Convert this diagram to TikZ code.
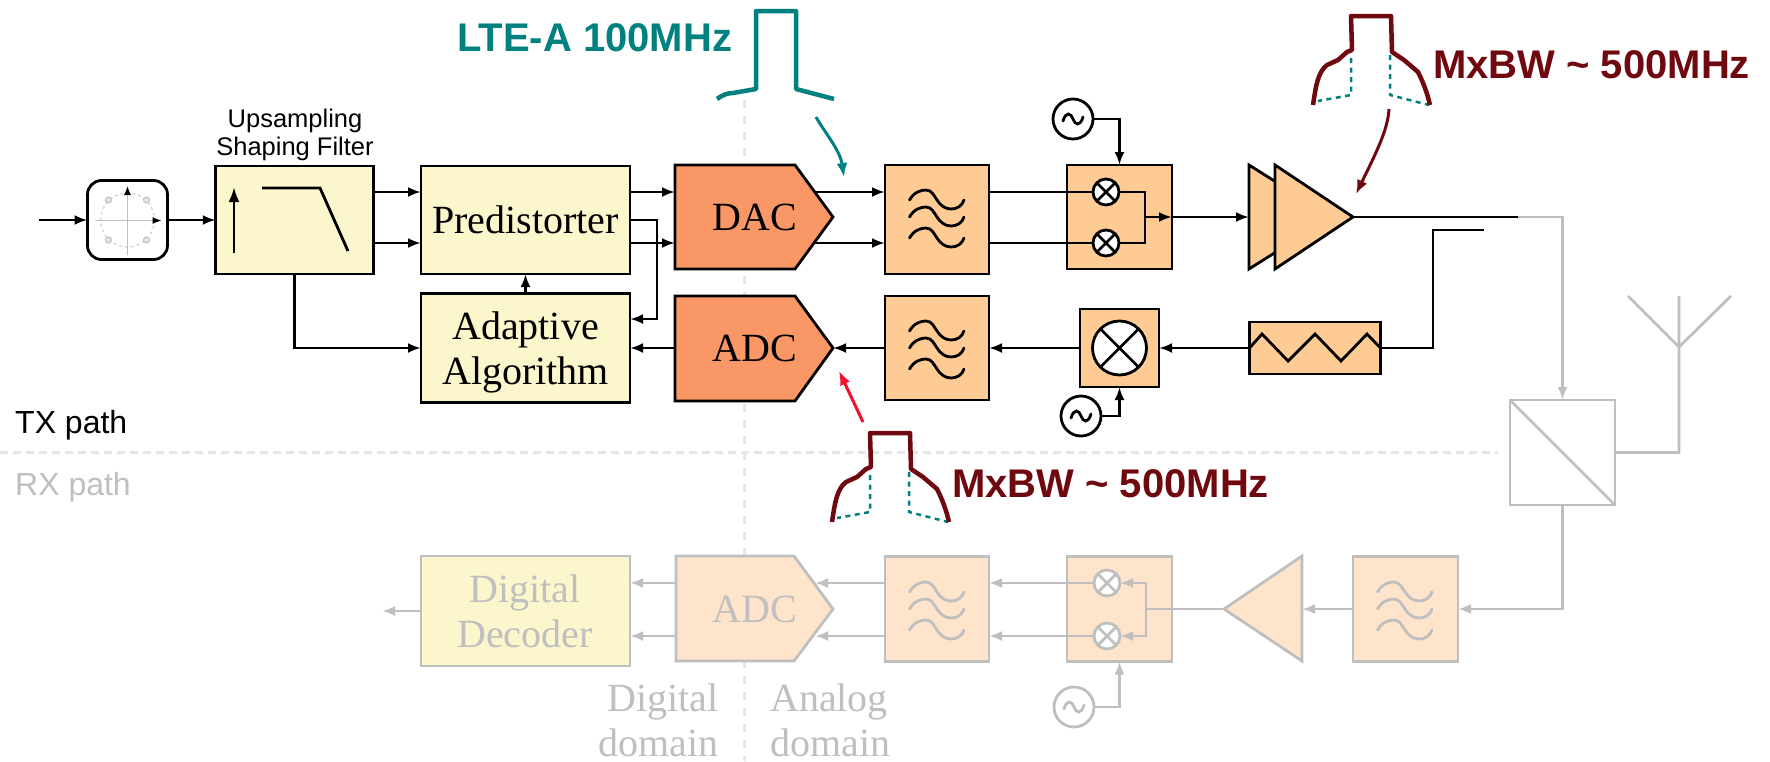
\documentclass[tikz,border=0pt]{standalone}
\usepackage{fontspec}
\setmainfont{Liberation Serif}
\newfontfamily\lsans{Liberation Sans}
\usetikzlibrary{arrows.meta,calc}
\definecolor{rxg}{HTML}{BFBFBF}
\definecolor{dashg}{HTML}{E6E6E6}
\definecolor{yel}{HTML}{FBF6CC}
\definecolor{org}{HTML}{FDCB93}
\definecolor{dorg}{HTML}{FA9766}
\definecolor{rxorg}{HTML}{FEE4CB}
\definecolor{tealc}{HTML}{00807F}
\definecolor{dred}{HTML}{70090F}
\definecolor{redc}{HTML}{F01030}
\tikzset{
  x=1pt,y=-1pt,
  blk/.style={line width=2.8pt,draw=black},
  gry/.style={line width=2.8pt,draw=rxg},
  blkbox/.style={blk,rectangle,inner sep=0pt,outer sep=0pt},
  grybox/.style={gry,rectangle,inner sep=0pt,outer sep=0pt},
  arr/.style={blk,-{Latex[length=13pt,width=10pt]}},
  garr/.style={gry,-{Latex[length=13pt,width=10pt,rxg]}},
  mixc/.style={circle,fill=white,inner sep=0pt,outer sep=0pt,minimum size=26pt},
  oscc/.style={circle,fill=white,inner sep=0pt,outer sep=0pt,minimum size=40pt},
  lab/.style={font=\fontsize{40}{44}\selectfont,anchor=base,inner sep=0pt},
  rxlab/.style={lab,text=rxg},
  sansb/.style={font=\lsans\bfseries\fontsize{40}{44}\selectfont,anchor=base west,inner sep=0pt},
  pathlab/.style={font=\lsans\fontsize{32}{36}\selectfont,anchor=base west,inner sep=0pt},
  smalllab/.style={font=\lsans\fontsize{25.5}{28}\selectfont,anchor=base,inner sep=0pt},
}
\newcommand\wavesym[3]{\begin{scope}[shift={(#1,#2)},line width=2.8pt,line cap=round]
  \foreach \d in {0,17,38}{
  \draw[#3] (24.5,35+\d) .. controls (29,27+\d) and (36,25+\d) .. (41,25+\d)
     .. controls (47,25+\d) and (49,31+\d) .. (52,35+\d)
     .. controls (55,40+\d) and (60,44+\d) .. (66,44+\d)
     .. controls (72,44+\d) and (77,41+\d) .. (79,35+\d);}
\end{scope}}
\newcommand\mixcross[2]{\draw[line width=2.8pt,#2] (#1.north west) -- (#1.south east) (#1.north east) -- (#1.south west);}
\newcommand\oscwave[2]{\draw[line width=2.8pt,#2,line cap=round] ($(#1.center)+(-10,2)$) .. controls ($(#1.center)+(-7,-8)$) and ($(#1.center)+(-2,-6)$) .. (#1.center) .. controls ($(#1.center)+(2,6)$) and ($(#1.center)+(7,8)$) .. ($(#1.center)+(10,-2)$);}
\newcommand\mxpulse[2]{\begin{scope}[shift={(#1,#2)}]
  \draw[tealc,line width=2.5pt,dash pattern=on 5pt off 4.5pt] (1351,58) -- (1351,95) -- (1318,101);
  \draw[tealc,line width=2.5pt,dash pattern=on 5pt off 4.5pt] (1390,55) -- (1390,95) -- (1429,105);
  \draw[dred,line width=4.5pt,line join=round] (1313,105) .. controls (1316,85) and (1318,72) .. (1327,65)
    -- (1338,60) -- (1347,52) -- (1352,50) -- (1351,16) -- (1391,16) -- (1392,52) -- (1404,60)
    -- (1418,72) .. controls (1423,82) and (1427,92) .. (1430,105);
\end{scope}}
\begin{document}
\begin{tikzpicture}
\useasboundingbox (0,0) rectangle (1770,761);
\fill[white] (0,0) rectangle (1770,761);
% domain separators
\draw[dashg,line width=3pt,dash pattern=on 8pt off 8pt] (744,100) -- (744,761);
\draw[dashg,line width=3pt,dash pattern=on 8pt off 5pt] (0,452) -- (1498,452);

% level coordinates
\coordinate (yA) at (0,192);
\coordinate (yB) at (0,243);
\coordinate (yE) at (0,319);
\coordinate (yF) at (0,220);
\coordinate (yG) at (0,583);
\coordinate (yH) at (0,636);

% TX blocks
\node[blkbox,rounded corners=14pt,fill=white,minimum width=80pt,minimum height=79pt] (con) at (127.5,220) {};
\node[blkbox,fill=yel,minimum width=157.5pt,minimum height=108pt] (ups) at (294.5,220) {};
\node[blkbox,fill=yel,minimum width=209pt,minimum height=108pt] (pre) at (525.5,220) {};
\node[blkbox,fill=yel,minimum width=209pt,minimum height=109pt] (ada) at (525.5,348) {};
\node[blkbox,fill=org,minimum width=104pt,minimum height=109pt] (fa) at (937,219.5) {};
\node[blkbox,fill=org,minimum width=105pt,minimum height=104pt] (mx) at (1119.5,217) {};
\node[blkbox,fill=org,minimum width=104pt,minimum height=104pt] (fb) at (937,348) {};
\node[blkbox,fill=org,minimum width=79pt,minimum height=78pt] (mr) at (1119.5,348) {};
\node[blkbox,fill=org,minimum width=131pt,minimum height=52pt] (att) at (1315,348) {};

% DAC / ADC
\draw[blk,fill=dorg,line join=miter] (675,165) coordinate (dactl) -- (795,165) -- (833,217) coordinate (dactip) -- (795,269) -- (675,269) -- cycle;
\draw[blk,fill=dorg,line join=miter] (675,296) coordinate (adctl) -- (795,296) -- (833,348) coordinate (adctip) -- (795,401) -- (675,401) -- cycle;
\coordinate (dacw) at (675,217);
\coordinate (adcw) at (675,348);
\coordinate (dacA) at (815,192);
\coordinate (dacB) at (815,243);

% amp
\draw[blk,fill=org,line join=miter] (1249,165) coordinate (ampw) -- (1276,182) -- (1276,252) -- (1249,269) -- cycle;
\draw[blk,fill=org,line join=miter] (1275,165) -- (1353,217) coordinate (amptip) -- (1275,269) -- cycle;
\coordinate (ampin) at (1249,217);

% labels inside TX
\node[lab] (tpre) at (525.5,233) {Predistorter};
\node[lab] (tada) at (525.5,339) {Adaptive};
\node[lab] (talg) at (525.5,384) {Algorithm};
\node[lab] (tdac) at (755,230) {DAC};
\node[lab] (tadc) at (755,361) {ADC};

% constellation
\draw[rxg!70,line width=1.2pt,dash pattern=on 3pt off 3pt] (con.center) circle (27);
\foreach \dx in {-19,19}{\foreach \dy in {-20,20}{
  \filldraw[fill=rxg!40,draw=rxg,line width=1pt] ($(con.center)+(\dx,\dy)$) circle (3);
}}
\draw[rxg,line width=1.2pt,-{Latex[black,length=9pt,width=7pt]}] ($(con.center)+(-33,0.5)$) -- ($(con.center)+(34,0.5)$);
\draw[rxg,line width=1.2pt,-{Latex[black,length=9pt,width=7pt]}] ($(con.center)+(0,35)$) -- ($(con.center)+(0,-34)$);

% upsampling symbols
\draw[line width=2.8pt,-{Latex[length=15pt,width=11pt]}] (234,253) -- (234,187);
\draw[line width=2.8pt,line join=miter] (262,188) -- (320,188) -- (348,251);
\node[smalllab] (tup) at (295,127) {Upsampling};
\node[smalllab] (tsh) at (295,155) {Shaping Filter};

% filter symbols
\wavesym{885}{165}{black}
\wavesym{885}{296}{black}

% mixers TX
\node[mixc,blk] (m1) at (1106,192) {}; \mixcross{m1}{black}
\node[mixc,blk] (m2) at (1106,243) {}; \mixcross{m2}{black}
\node[circle,fill=white,blk,inner sep=0pt,outer sep=0pt,minimum size=54pt] (m5) at (1119.5,348) {}; \mixcross{m5}{black}
\node[oscc,blk] (o1) at (1073,119) {}; \oscwave{o1}{black}
\node[oscc,blk] (o2) at (1081,416) {}; \oscwave{o2}{black}

% attenuator zigzag
\draw[blk,line join=miter] (att.west) -- (1262,334) -- (1288,361) -- (1315,334) -- (1341,361) -- (1367,334) -- (att.east);

% TX connectors
\coordinate (in) at (39,220);
\draw[arr] (in) -- (con.west);
\draw[arr] (con.east) -- (ups.west);
\draw[arr] (ups.east |- yA) -- (pre.west |- yA);
\draw[arr] (ups.east |- yB) -- (pre.west |- yB);
\draw[arr] (pre.east |- yA) -- (dacw |- yA);
\draw[arr] (pre.east |- yB) -- (dacw |- yB);
\draw[arr] (ups.south) |- (ada.west);
\draw[arr] (ada.north) -- (pre.south);
\coordinate (fbk) at (657,220);
\draw[arr] (pre.east |- yF) -- (fbk) |- (ada.east |- yE);
\draw[arr] (adcw) -- (ada.east);
\draw[arr] (dacA) -- (fa.west |- dacA);
\draw[arr] (dacB) -- (fa.west |- dacB);
\draw[blk] (fa.east |- yA) -- (m1.west);
\draw[blk] (fa.east |- yB) -- (m2.west);
\coordinate (mj) at (1145,217);
\draw[blk] (m1.east) -| (mj) (m2.east) -| (mj);
\draw[arr] (mj) -- (mx.east);
\draw[arr] (mx.east) -- (ampin);
\draw[arr] (o1.east) -| (mx.north);
\draw[arr] (fb.west) -- (adctip);
\draw[arr] (mr.west) -- (fb.east);
\draw[arr] (att.west) -- (mr.east);
\draw[arr] (o2.east) -| (mr.south);
\coordinate (txend) at (1518,217);
\coordinate (cplA) at (1433,230);
\coordinate (cplB) at (1484,230);
\draw[blk] (amptip) -- (txend);
\draw[blk] (att.east) -| (cplA) -- (cplB);

% splitter, antenna
\node[grybox,minimum width=105pt,minimum height=105pt] (spl) at (1562.5,452.5) {};
\draw[gry] (spl.north west) -- (spl.south east);
\draw[garr] (txend) -| (spl.north);
\coordinate (antb) at (1679,347);
\coordinate (antt) at (1679,296);
\coordinate (antl) at (1628,296);
\coordinate (antr) at (1731,296);
\draw[gry] (antl) -- (antb) -- (antr) (antt) -- (antb) |- (spl.east);

% RX blocks
\node[grybox,fill=yel,minimum width=209pt,minimum height=110pt] (dec) at (525.5,611) {};
\draw[gry,fill=rxorg,line join=miter] (676,556) -- (794,556) -- (833,609) coordinate (radctip) -- (794,661) -- (676,661) -- cycle;
\coordinate (radcw) at (676,609);
\coordinate (radcA) at (815,583);
\coordinate (radcB) at (815,636);
\node[grybox,fill=rxorg,minimum width=104pt,minimum height=105pt] (fr1) at (937,609) {};
\node[grybox,fill=rxorg,minimum width=105pt,minimum height=105pt] (mr1) at (1119.5,609) {};
\node[grybox,fill=rxorg,minimum width=105pt,minimum height=105pt] (fr2) at (1405.5,609) {};
\draw[gry,fill=rxorg,line join=miter] (1302,556) coordinate (ramptop) -- (1224,609) coordinate (ramptip) -- (1302,661) -- cycle;
\coordinate (rampe) at (1302,609);
\wavesym{885}{557}{rxg}
\wavesym{1353}{557}{rxg}
\node[mixc,gry] (m3) at (1107,583) {}; \mixcross{m3}{rxg}
\node[mixc,gry] (m4) at (1107,636) {}; \mixcross{m4}{rxg}
\node[oscc,gry] (o3) at (1074,707) {}; \oscwave{o3}{rxg}
\node[rxlab] (tdig) at (525,602) {Digital};
\node[rxlab] (tdeco) at (525,647) {Decoder};
\node[rxlab] (tradc) at (755,622) {ADC};

% RX connectors
\draw[garr] (spl.south) |- (fr2.east);
\draw[garr] (fr2.west) -- (rampe);
\coordinate (rj) at (1146,609);
\draw[gry] (ramptip) -- (rj);
\draw[garr] (rj) |- (m3.east);
\draw[garr] (rj) |- (m4.east);
\draw[garr] (m3.west) -- (fr1.east |- m3);
\draw[garr] (m4.west) -- (fr1.east |- m4);
\draw[garr] (fr1.west |- yG) -- (radcA);
\draw[garr] (fr1.west |- yH) -- (radcB);
\draw[garr] (radcw |- yG) -- (dec.east |- yG);
\draw[garr] (radcw |- yH) -- (dec.east |- yH);
\coordinate (out) at (382,611);
\draw[garr] (dec.west) -- (out);
\draw[garr] (o3.east) -| (mr1.south);

% domain labels
\node[rxlab,anchor=base east] (td1) at (719,711) {Digital};
\node[rxlab,anchor=base east] (td2) at (719,756) {domain};
\node[rxlab,anchor=base west] (ta1) at (770,711) {Analog};
\node[rxlab,anchor=base west] (ta2) at (770,756) {domain};
\node[pathlab] (ttx) at (15,433) {TX path};
\node[pathlab,text=rxg] (trx) at (15,495) {RX path};

% annotations
\draw[tealc,line width=4.5pt,line join=round] (717,99) .. controls (722,95) and (728,93) .. (733,93) -- (756,89) -- (756,11) -- (796,11) -- (796,89) -- (834,99);
\node[sansb,text=tealc] (tlte) at (457,51) {LTE-A 100MHz};
\coordinate (ta) at (816,117);
\coordinate (tb) at (844,177);
\draw[tealc,line width=3pt,-{Latex[length=14pt,width=11pt,tealc]}] (ta) .. controls (825,133) and (840,150) .. (tb);
\mxpulse{0}{0}
\node[sansb,text=dred] (tmx1) at (1433,78) {MxBW \textasciitilde{} 500MHz};
\coordinate (da) at (1389,109);
\coordinate (db) at (1356,194);
\draw[dred,line width=3pt,-{Latex[length=14pt,width=11pt,dred]}] (da) .. controls (1388,130) and (1375,155) .. (db);
\mxpulse{-481}{417}
\node[sansb,text=dred] (tmx2) at (952,497) {MxBW \textasciitilde{} 500MHz};
\coordinate (ra) at (863,422);
\coordinate (rb) at (839,371);
\draw[redc,line width=3pt,-{Latex[length=14pt,width=11pt,redc]}] (ra) -- (rb);
\end{tikzpicture}
\end{document}
